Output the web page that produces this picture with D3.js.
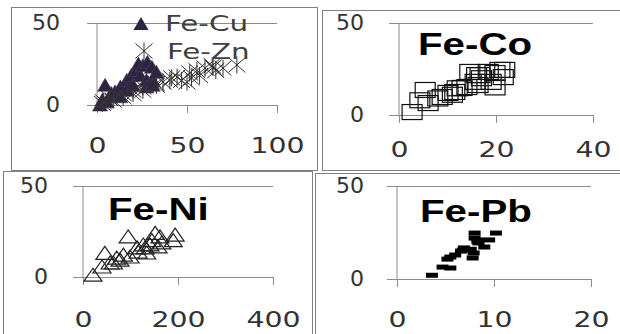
<!DOCTYPE html>
<html>
<head>
<meta charset="utf-8">
<script src="https://cdn.jsdelivr.net/npm/d3@7"></script>
<style>
	body { margin: 0; background: #fff; }
	svg { display: block; }
	.tick text { font-family: "DejaVu Sans", sans-serif; font-size: 21px; fill: #333; }
	.title { font-family: "Liberation Sans", Arial, sans-serif; font-weight: bold; font-size: 31px; fill: #000; }
	.legend { font-family: "DejaVu Sans", sans-serif; font-size: 21px; fill: #404040; }
</style>
</head>
<body>
<svg width="620" height="334"></svg>
<script>
//* values
const feCu = [[1.7,0],[3,3],[5.5,2],[4.5,12],[8,7],[7,5],[10,8],[13,11],[13,5],[16.5,15],[16.5,9],[19,18],[20,12],
	[22,21],[23,25],[24,18],[25.5,24],[27.5,15],[27.5,11],[28,26],[30.5,23],[31,15],[31,12],[33,20]];
const feZn = [[3,1],[3.5,2],[7,4],[9,3],[14.5,7],[14.5,5],[20,9],[20,7],[25.5,11],[25.5,9],[33,13],[33,12],
	[36.7,14],[40.5,15],[41.5,16.5],[44.5,17],[47,15],[50,14],[52.5,16.5],[51.5,19.5],[55.5,21],[57,18],
	[60,22.5],[64,24],[64.5,23],[66,21],[70,22.5],[77.7,24.4]];
const feCo = [[2.7,1.6],[5.4,13.6],[6,6.5],[4.3,8],[8,9],[8.9,9.8],[10.1,12],[11,11],[11.5,12.5],[12,14.5],
	[13,14.7],[14,15.2],[14.6,23.4],[15.7,18],[16,21.7],[16.3,16.3],[16.7,21.7],[17,20],[18.4,23.4],[19,18],
	[19.8,22.8],[19.8,15],[20.8,24.5],[21.5,20.6],[21.8,24.5]];
const feNi = [[21,1],[40,5.5],[46,13],[57,7.7],[64,7.7],[71,10.4],[78,9.3],[85,12],[95,22],[99,11],[114,16],
	[116,13.7],[127,17.6],[131,16],[134,13.2],[141,17.6],[145,20],[152,24],[158,16.5],[162,22],[166,18.7],
	[190,20],[194,23]];
const fePb = [[3.6,2],[4.7,6.4],[5.5,5.9],[5.2,10.7],[5.5,11.8],[6,12.9],[6.6,15],[6.8,15.6],[6.9,16.7],
	[7.6,16],[7.8,11.3],[7.9,14],[8.3,20],[8.3,21],[8.4,19.4],[8,22],[8,24.7],[9,17.2],[9.5,21],[10.2,24.7]];

const yTicks = [0, 50];
const xTicksCu = [0, 50, 100];
const xTicksCo = [0, 20, 40];
const xTicksNi = [0, 200, 400];
const xTicksPb = [0, 10, 20];
const titles = ["Fe-Co", "Fe-Ni", "Fe-Pb"];
const legendNames = ["Fe-Cu", "Fe-Zn"];

const svg = d3.select("svg");
const axisCol = "#8c8c8c";

//* marker shapes
const triFill = "M0,-7L7.5,6L-7.5,6Z";
const triOpen = "M0,-7L9,6L-9,6Z";
const star = "M-8.5,-7.5L8.5,7.5M-8.5,7.5L8.5,-7.5M0,-8.5L0,8.5";

//* panel frames
[[11.5, 7.5, 306, 163], [322.5, 10.5, 300, 160], [3.5, 171.5, 309, 165], [315.5, 173.5, 306, 162]].forEach((b) => {
	svg.append("rect").attr("x", b[0]).attr("y", b[1]).attr("width", b[2]).attr("height", b[3])
		.attr("fill", "none").attr("stroke", "#808080");
});

function panel(cfg) {
	const x = d3.scaleLinear().domain(d3.extent(cfg.xTicks)).range(cfg.xr);
	const y = d3.scaleLinear().domain([0, 50]).range(cfg.yr);
	const g = svg.append("g");

	//* gridline + zero line
	const yAx = g.append("g")
		.attr("transform", `translate(${cfg.xr[0] - 10},0)`)
		.call(d3.axisLeft(y).tickValues(yTicks).tickSize(-(cfg.xr[1] - cfg.xr[0] + 10)).tickFormat(d3.format("d")));
	yAx.select(".domain").remove();
	yAx.selectAll("line").attr("stroke", axisCol);
	yAx.selectAll("text").attr("x", 0)
		.attr("transform", `translate(${cfg.yLabX - cfg.xr[0] + 10},0) scale(1.05,1)`);

	//* x ticks
	const xAx = g.append("g")
		.attr("transform", `translate(0,${cfg.yr[0]})`)
		.call(d3.axisBottom(x).tickValues(cfg.xTicks).tickSize(8));
	xAx.select(".domain").remove();
	xAx.selectAll("line").attr("stroke", axisCol);
	xAx.selectAll("text").attr("y", cfg.xLabY - cfg.yr[0]).attr("dy", 0)
		.attr("transform", "scale(1.35,1)");

	//* vertical axis
	g.append("line").attr("x1", cfg.xr[0]).attr("x2", cfg.xr[0])
		.attr("y1", y(50)).attr("y2", y(0)).attr("stroke", axisCol);

	if (cfg.title) {
		g.append("text").attr("class", "title")
			.attr("transform", `translate(${cfg.title[1]},${cfg.title[2]}) scale(1.3,1)`)
			.text(cfg.title[0]);
	}
	return { g, x, y };
}

//* Fe-Cu / Fe-Zn
const p1 = panel({ xTicks: xTicksCu, xr: [97, 277], yr: [105, 23], yLabX: 60, xLabY: 153 });
p1.g.selectAll(".cu").data(feCu).enter().append("path")
	.attr("d", triFill).attr("fill", "#2d2340").attr("stroke", "#4a4060").attr("stroke-width", 0.6)
	.attr("transform", (d) => `translate(${p1.x(d[0])},${p1.y(d[1])})`);
p1.g.selectAll(".zn").data(feZn).enter().append("path")
	.attr("d", star).attr("fill", "none").attr("stroke", "#333").attr("stroke-width", 1)
	.attr("transform", (d) => `translate(${p1.x(d[0])},${p1.y(d[1])})`);

//* legend
p1.g.append("path").attr("d", triFill).attr("fill", "#2d2340").attr("transform", "translate(141,24)");
p1.g.append("path").attr("d", star).attr("fill", "none").attr("stroke", "#333").attr("transform", "translate(144,51)");
p1.g.selectAll(".legend").data(legendNames).enter().append("text").attr("class", "legend")
	.attr("transform", (_, i) => `translate(${165 + i * 2},${31 + i * 28}) scale(1.4,1)`)
	.text((d) => d);

//* Fe-Co
const p2 = panel({ xTicks: xTicksCo, xr: [399, 593], yr: [115, 23], yLabX: 364, xLabY: 157, title: [titles[0], 418, 55] });
p2.g.selectAll(".co").data(feCo).enter().append("rect")
	.attr("x", (d) => p2.x(d[0]) - 10).attr("y", (d) => p2.y(d[1]) - 7.5)
	.attr("width", 20).attr("height", 15)
	.attr("fill", "none").attr("stroke", "#111").attr("stroke-width", 1.2);

//* Fe-Ni
const p3 = panel({ xTicks: xTicksNi, xr: [83, 273], yr: [277, 186], yLabX: 48, xLabY: 327, title: [titles[1], 108, 220] });
p3.g.selectAll(".ni").data(feNi).enter().append("path")
	.attr("d", triOpen).attr("fill", "none").attr("stroke", "#222").attr("stroke-width", 1.2)
	.attr("transform", (d) => `translate(${p3.x(d[0])},${p3.y(d[1])})`);

//* Fe-Pb
const p4 = panel({ xTicks: xTicksPb, xr: [397, 591], yr: [279, 186], yLabX: 364, xLabY: 327, title: [titles[2], 420, 222] });
p4.g.selectAll(".pb").data(fePb).enter().append("rect")
	.attr("x", (d) => p4.x(d[0]) - 6).attr("y", (d) => p4.y(d[1]) - 2.5)
	.attr("width", 12).attr("height", 5)
	.attr("fill", "#000");
</script>
</body>
</html>
